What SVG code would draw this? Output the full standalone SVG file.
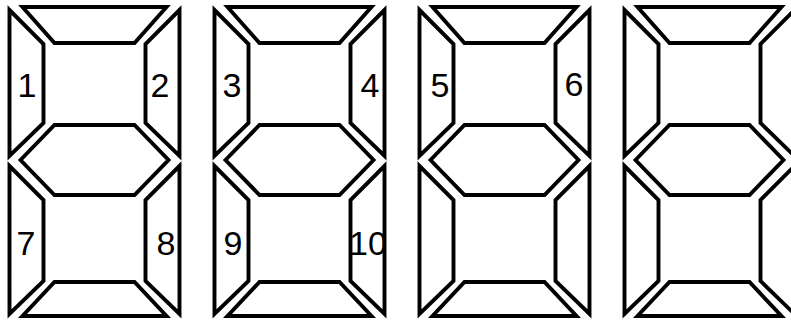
<svg xmlns="http://www.w3.org/2000/svg" width="791" height="320" viewBox="0 0 791 320">
<style>
.seg{fill:none;stroke:#000;stroke-width:3.9;stroke-linejoin:miter}
.lbl{font-family:"Liberation Sans",Arial,sans-serif;font-size:34px;fill:#000;text-anchor:middle}
</style>
<defs>
<g id="digit">
<polygon class="seg" points="-72,7 72,7 40,43 -40,43"/>
<polygon class="seg" points="-85,10 -51,44 -51,123 -85,156"/>
<polygon class="seg" points="85,10 51,44 51,123 85,156"/>
<polygon class="seg" points="-74,160 -40,125 40,125 74,160 40,195 -40,195"/>
<polygon class="seg" points="-85,166 -51,200 -51,281 -85,314"/>
<polygon class="seg" points="85,166 51,200 51,281 85,314"/>
<polygon class="seg" points="-72,316 72,316 40,282 -40,282"/>
</g>
</defs>
<g id="digit1">
<use href="#digit" transform="translate(94.5,0)"/>
<text class="lbl" x="27" y="97">1</text>
<text class="lbl" x="160" y="97">2</text>
<text class="lbl" x="26" y="255">7</text>
<text class="lbl" x="166" y="255">8</text>
</g>
<g id="digit2">
<use href="#digit" transform="translate(299.5,0)"/>
<text class="lbl" x="232" y="97">3</text>
<text class="lbl" x="370" y="97">4</text>
<text class="lbl" x="233" y="255">9</text>
<text class="lbl" x="368" y="255">10</text>
</g>
<g id="digit3">
<use href="#digit" transform="translate(504.5,0)"/>
<text class="lbl" x="440" y="97">5</text>
<text class="lbl" x="574" y="96">6</text>
</g>
<g id="digit4">
<use href="#digit" transform="translate(709.5,0)"/>
</g>
<g id="connectors"/>
</svg>
